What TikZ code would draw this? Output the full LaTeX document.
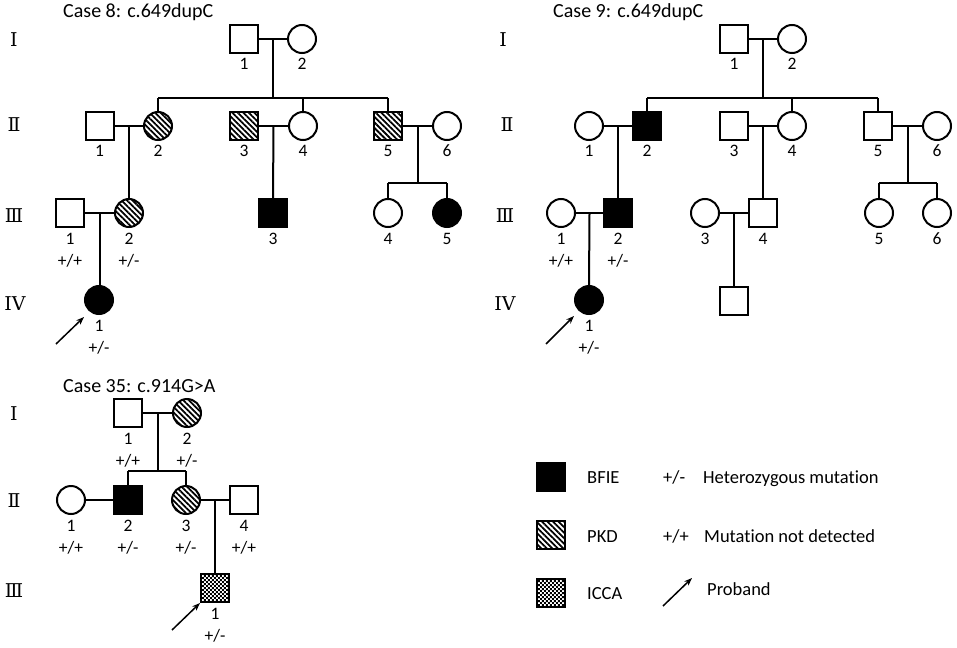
\documentclass[tikz,border=0pt]{standalone}
\usepackage{fontspec}
\setmainfont{Carlito}[Ligatures=NoCommon]
\newfontfamily\romfont{DejaVu Serif}
\usetikzlibrary{patterns,patterns.meta,arrows.meta,calc}
\pgfdeclarepatternformonly{checks}{\pgfpointorigin}{\pgfpoint{4.4pt}{4.4pt}}{\pgfpoint{4.4pt}{4.4pt}}{%
\pgfpathrectangle{\pgfpointorigin}{\pgfpoint{2.2pt}{2.2pt}}%
\pgfpathrectangle{\pgfpoint{2.2pt}{2.2pt}}{\pgfpoint{2.2pt}{2.2pt}}%
\pgfusepath{fill}}
\tikzset{
  person/.style={draw, line width=2pt, inner sep=0pt, minimum size=28pt},
  male/.style={person, rectangle},
  female/.style={person, circle},
  aff/.style={fill=black},
  pkd/.style={pattern={Lines[angle=-45,distance=3.9pt,line width=1.8pt]}},
  icca/.style={pattern=checks},
  link/.style={line width=2pt},
  num/.style={font=\fontsize{17.5}{20}\selectfont, anchor=base, inner sep=0pt},
  gen/.style={font=\fontsize{17.5}{20}\selectfont, anchor=base, inner sep=0pt},
  gennum/.style={font=\romfont\fontsize{19}{21}\selectfont, anchor=base, inner sep=0pt},
  ttl/.style={font=\fontsize{20}{23}\selectfont, anchor=base west, inner sep=0pt},
  leg/.style={font=\fontsize{18.5}{21}\selectfont, anchor=base west, inner sep=0pt},
  proband/.style={line width=1.5pt, -{Stealth[length=8pt,width=6pt]}},
}
\newcommand{\nm}[2]{\node[num] at ([yshift=-31pt]#1.center) {#2};}
\newcommand{\gt}[2]{\node[gen] at ([yshift=-53pt]#1.center) {#2};}
\begin{document}
\begin{tikzpicture}[x=1pt,y=-1pt]
\useasboundingbox (0,0) rectangle (957,647);

% ================= Case 8 =================
\node[ttl] (t8) at (63,18) {Case 8: c.649dupC};
\node[gennum] (g8a) at (14,47) {Ⅰ};
\node[gennum] (g8b) at (14,132) {Ⅱ};
\node[gennum] (g8c) at (14,222) {Ⅲ};
\node[gennum] (g8d) at (15,310) {IV};

\node[male] (a1) at (244,39) {};
\node[female] (a2) at (302,39) {};
\node[male] (b1) at (99.5,126) {};
\node[female,pkd] (b2) at (158,126) {};
\node[male,pkd] (b3) at (244,126) {};
\node[female] (b4) at (303,126) {};
\node[male,pkd] (b5) at (388,126) {};
\node[female] (b6) at (447,126) {};
\node[male] (c1) at (70,213) {};
\node[female,pkd] (c2) at (129,213) {};
\node[male,aff] (c3) at (273,213) {};
\node[female] (c4) at (388,213) {};
\node[female,aff] (c5) at (447,213) {};
\node[female,aff] (d1) at (99,300) {};

\nm{a1}{1}\nm{a2}{2}
\nm{b1}{1}\nm{b2}{2}\nm{b3}{3}\nm{b4}{4}\nm{b5}{5}\nm{b6}{6}
\nm{c1}{1}\nm{c2}{2}\nm{c3}{3}\nm{c4}{4}\nm{c5}{5}
\gt{c1}{+/+}\gt{c2}{+/-}
\nm{d1}{1}\gt{d1}{+/-}

\draw[link] (a1.east) -- (a2.west);
\coordinate (ma) at ($(a1.east)!0.5!(a2.west)$);
\coordinate (sa) at ($(ma)+(0,59)$);
\draw[link] (ma) -- (sa);
\draw[link] (b2.north |- sa) -- (b5.north |- sa);
\draw[link] (b2.north |- sa) -- (b2.north);
\draw[link] (b4.north |- sa) -- (b4.north);
\draw[link] (b5.north |- sa) -- (b5.north);

\draw[link] (b1.east) -- (b2.west);
\coordinate (mb12) at ($(b1.east)!0.5!(b2.west)$);
\draw[link] (mb12) -- (mb12 |- c2.north);
\draw[link] (b3.east) -- (b4.west);
\coordinate (mb34) at ($(b3.east)!0.5!(b4.west)$);
\draw[link] (mb34) -- (c3.north);
\draw[link] (b5.east) -- (b6.west);
\coordinate (mb56) at ($(b5.east)!0.5!(b6.west)$);
\coordinate (sb56) at ($(mb56)+(0,57)$);
\draw[link] (mb56) -- (sb56);
\draw[link] (c4.north |- sb56) -- (c5.north |- sb56);
\draw[link] (c4.north |- sb56) -- (c4.north);
\draw[link] (c5.north |- sb56) -- (c5.north);

\draw[link] (c1.east) -- (c2.west);
\coordinate (mc12) at ($(c1.east)!0.5!(c2.west)$);
\draw[link] (mc12) -- (mc12 |- d1.north);

\coordinate (p8) at (56,344);
\coordinate (p8t) at (84,317);
\draw[proband] (p8) -- (p8t);

% ================= Case 9 =================
\node[ttl] (t9) at (553,18) {Case 9: c.649dupC};
\node[gennum] (g9a) at (503,47) {Ⅰ};
\node[gennum] (g9b) at (507,132) {Ⅱ};
\node[gennum] (g9c) at (505,222) {Ⅲ};
\node[gennum] (g9d) at (505,310) {IV};

\node[male] (e1) at (734,39) {};
\node[female] (e2) at (792,39) {};
\node[female] (f1) at (589,126) {};
\node[male,aff] (f2) at (647,126) {};
\node[male] (f3) at (734,126) {};
\node[female] (f4) at (792,126) {};
\node[male] (f5) at (878,126) {};
\node[female] (f6) at (937,126) {};
\node[female] (h1) at (561,213) {};
\node[male,aff] (h2) at (618,213) {};
\node[female] (h3) at (705,213) {};
\node[male] (h4) at (763,213) {};
\node[female] (h5) at (879,213) {};
\node[female] (h6) at (937,213) {};
\node[female,aff] (k1) at (589,300) {};
\node[male] (k2) at (734,301) {};

\nm{e1}{1}\nm{e2}{2}
\nm{f1}{1}\nm{f2}{2}\nm{f3}{3}\nm{f4}{4}\nm{f5}{5}\nm{f6}{6}
\nm{h1}{1}\nm{h2}{2}\nm{h3}{3}\nm{h4}{4}\nm{h5}{5}\nm{h6}{6}
\gt{h1}{+/+}\gt{h2}{+/-}
\nm{k1}{1}\gt{k1}{+/-}

\draw[link] (e1.east) -- (e2.west);
\coordinate (me) at ($(e1.east)!0.5!(e2.west)$);
\coordinate (se) at ($(me)+(0,59)$);
\draw[link] (me) -- (se);
\draw[link] (f2.north |- se) -- (f5.north |- se);
\draw[link] (f2.north |- se) -- (f2.north);
\draw[link] (f4.north |- se) -- (f4.north);
\draw[link] (f5.north |- se) -- (f5.north);

\draw[link] (f1.east) -- (f2.west);
\coordinate (mf12) at ($(f1.east)!0.5!(f2.west)$);
\draw[link] (mf12) -- (h2.north);
\draw[link] (f3.east) -- (f4.west);
\coordinate (mf34) at ($(f3.east)!0.5!(f4.west)$);
\draw[link] (mf34) -- (h4.north);
\draw[link] (f5.east) -- (f6.west);
\coordinate (mf56) at ($(f5.east)!0.5!(f6.west)$);
\coordinate (sf56) at ($(mf56)+(0,57)$);
\draw[link] (mf56) -- (sf56);
\draw[link] (h5.north |- sf56) -- (h6.north |- sf56);
\draw[link] (h5.north |- sf56) -- (h5.north);
\draw[link] (h6.north |- sf56) -- (h6.north);

\draw[link] (h1.east) -- (h2.west);
\coordinate (mh12) at ($(h1.east)!0.5!(h2.west)$);
\draw[link] (mh12) -- (k1.north);
\draw[link] (h3.east) -- (h4.west);
\coordinate (mh34) at ($(h3.east)!0.5!(h4.west)$);
\draw[link] (mh34) -- (k2.north);

\coordinate (p9) at (546,344);
\coordinate (p9t) at (574,316);
\draw[proband] (p9) -- (p9t);

% ================= Case 35 =================
\node[ttl] (t35) at (63,392) {Case 35: c.914G>A};
\node[gennum] (g35a) at (14,420) {Ⅰ};
\node[gennum] (g35b) at (14,507) {Ⅱ};
\node[gennum] (g35c) at (14,597) {Ⅲ};

\node[male] (m1) at (128,413) {};
\node[female,pkd] (m2) at (187,413) {};
\node[female] (n1) at (71,500) {};
\node[male,aff] (n2) at (128,500) {};
\node[female,pkd] (n3) at (186,500) {};
\node[male] (n4) at (244,500) {};
\node[male,icca] (q1) at (215,588) {};

\nm{m1}{1}\nm{m2}{2}\gt{m1}{+/+}\gt{m2}{+/-}
\nm{n1}{1}\nm{n2}{2}\nm{n3}{3}\nm{n4}{4}
\gt{n1}{+/+}\gt{n2}{+/-}\gt{n3}{+/-}\gt{n4}{+/+}
\nm{q1}{1}\gt{q1}{+/-}

\draw[link] (m1.east) -- (m2.west);
\coordinate (mm) at ($(m1.east)!0.5!(m2.west)$);
\coordinate (sm) at ($(mm)+(0,58)$);
\draw[link] (mm) -- (sm);
\draw[link] (n2.north |- sm) -- (n3.north |- sm);
\draw[link] (n2.north |- sm) -- (n2.north);
\draw[link] (n3.north |- sm) -- (n3.north);
\draw[link] (n1.east) -- (n2.west);
\draw[link] (n3.east) -- (n4.west);
\coordinate (mn34) at ($(n3.east)!0.5!(n4.west)$);
\draw[link] (mn34) -- (q1.north);

\coordinate (p35) at (172,630);
\coordinate (p35t) at (200,603);
\draw[proband] (p35) -- (p35t);

% ================= Legend =================
\node[male,aff] (l1) at (550.5,477) {};
\node[male,pkd] (l2) at (550.5,535) {};
\node[male,icca] (l3) at (550.5,593) {};
\node[leg] (l1t) at (587,483) {BFIE};
\node[leg] (l2t) at (587,542) {PKD};
\node[leg] (l3t) at (587,599) {ICCA};
\node[leg] (l4a) at (663,483) {+/-};
\node[leg] (l4b) at (703,483) {Heterozygous mutation};
\node[leg] (l5a) at (663,542) {+/+};
\node[leg] (l5b) at (704,542) {Mutation not detected};
\coordinate (lp) at (663,606);
\coordinate (lpt) at (692,578);
\draw[proband] (lp) -- (lpt);
\node[leg] (l6) at (707,595) {Proband};
\end{tikzpicture}
\end{document}
